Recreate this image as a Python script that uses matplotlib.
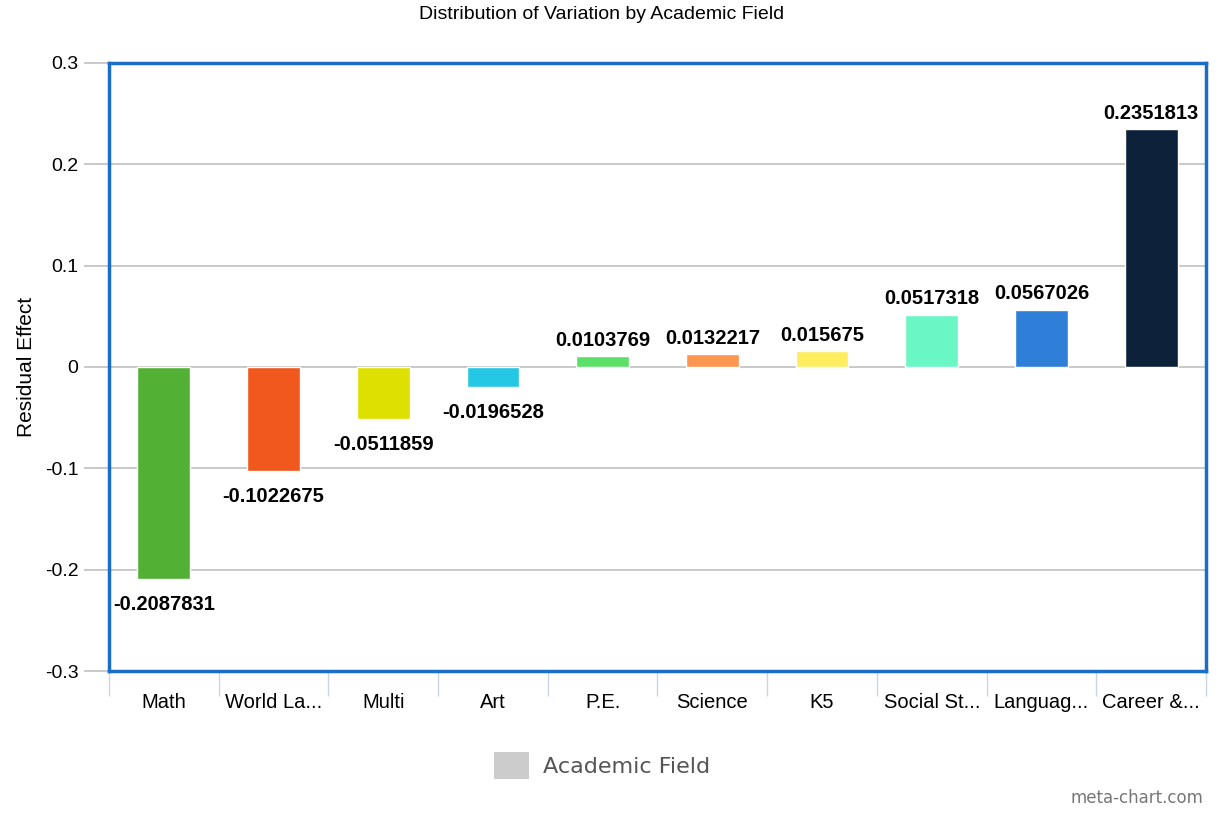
import matplotlib.pyplot as plt
from matplotlib.patches import Patch

plt.rcParams['font.family'] = ['Liberation Sans', 'DejaVu Sans']

# Data
categories = ["Math", "World La...", "Multi", "Art", "P.E.", "Science", "K5",
              "Social St...", "Languag...", "Career &..."]
values = [-0.2087831, -0.1022675, -0.0511859, -0.0196528, 0.0103769,
          0.0132217, 0.015675, 0.0517318, 0.0567026, 0.2351813]
labels = ["-0.2087831", "-0.1022675", "-0.0511859", "-0.0196528", "0.0103769",
          "0.0132217", "0.015675", "0.0517318", "0.0567026", "0.2351813"]
colors = ["#52b135", "#f0581e", "#dde000", "#25c8e4", "#5de06a",
          "#fd9650", "#fded5f", "#6af7c5", "#2f7ed8", "#0d223a"]

fig = plt.figure(figsize=(12.16, 8.17), dpi=100)
ax = fig.add_axes([0.0896, 0.1787, 0.9022, 0.7442])

x = range(len(categories))
bars = ax.bar(x, values, width=0.48, color=colors, edgecolor="white",
              linewidth=1, zorder=3)

for xi, v, lab in zip(x, values, labels):
    if v >= 0:
        ax.text(xi, v + 0.006, lab, ha="center", va="bottom",
                fontsize=14.5, fontweight="bold", zorder=4)
    else:
        ax.text(xi, v - 0.016, lab, ha="center", va="top",
                fontsize=14.5, fontweight="bold", zorder=4)

ax.set_xlim(-0.5, len(categories) - 0.5)
ax.set_ylim(-0.3, 0.3)
ax.set_yticks([-0.3, -0.2, -0.1, 0, 0.1, 0.2, 0.3])
ax.set_yticklabels(["-0.3", "-0.2", "-0.1", "0", "0.1", "0.2", "0.3"])
ax.yaxis.grid(True, color="#c0c0c0", linewidth=1.2, zorder=0)
ax.set_axisbelow(True)

ax.set_xticks(list(x))
ax.set_xticklabels(categories)
ax.tick_params(axis="x", length=0, labelsize=14.5, pad=16)
ax.tick_params(axis="y", length=18, color="#c0c0c0", width=1.2,
               labelsize=14, pad=4)

# category boundary ticks below the frame
ax.set_xticks([i - 0.5 for i in range(len(categories) + 1)], minor=True)
ax.tick_params(axis="x", which="minor", length=18, color="#c8d6e6", width=1)

for sp in ax.spines.values():
    sp.set_color("#1a6ec8")
    sp.set_linewidth(2.5)

ax.set_ylabel("Residual Effect", fontsize=15, labelpad=6)
fig.suptitle("Distribution of Variation by Academic Field", fontsize=14,
             x=0.495, y=0.993)

leg = fig.legend(handles=[Patch(facecolor="#cccccc", edgecolor="none")],
                 labels=["Academic Field"], loc="center",
                 bbox_to_anchor=(0.495, 0.063), frameon=False,
                 prop={"family": "DejaVu Sans", "size": 16},
                 handlelength=1.6, handleheight=1.5, handletextpad=0.6)
for t in leg.get_texts():
    t.set_color("#555555")

fig.text(0.99, 0.012, "meta-chart.com", ha="right", va="bottom",
         fontsize=12, color="#777777", family="DejaVu Sans")

fig.savefig("out.png", dpi=100)
